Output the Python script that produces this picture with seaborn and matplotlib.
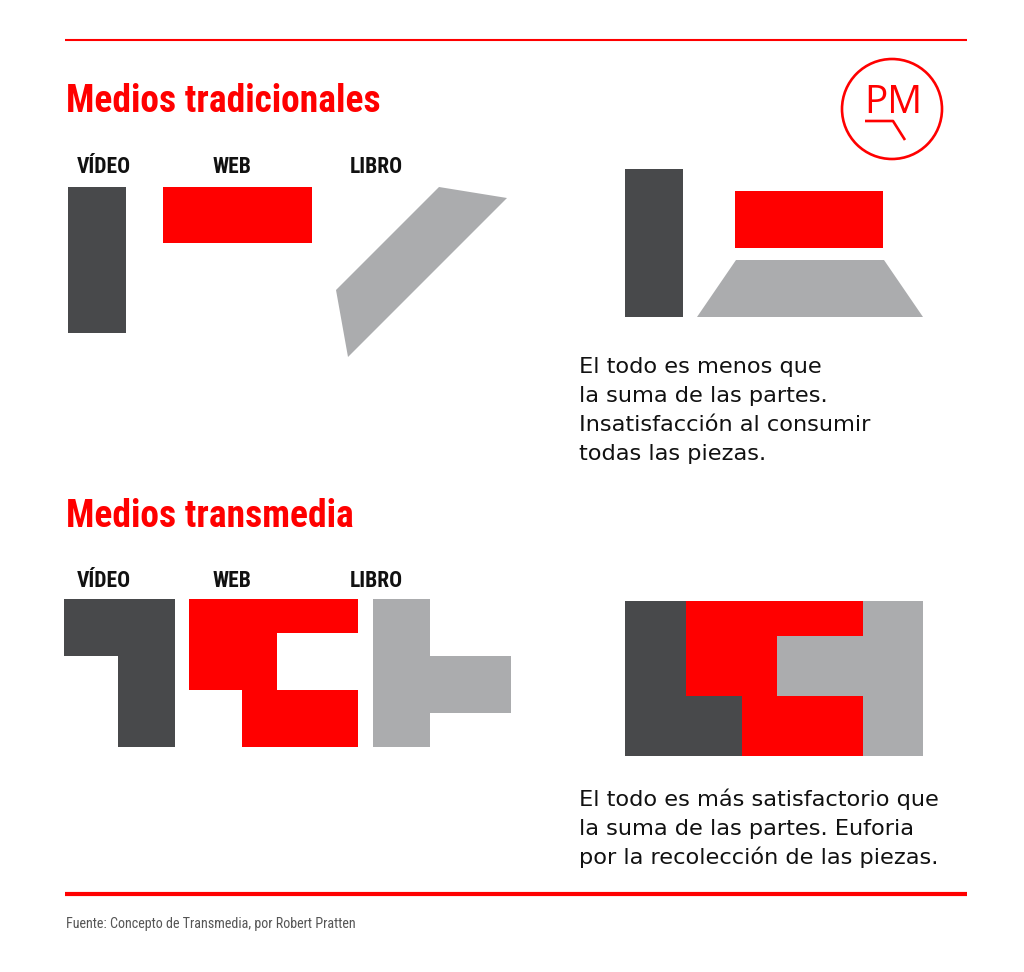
import matplotlib
matplotlib.use("Agg")
import matplotlib.pyplot as plt
from matplotlib.patches import Circle
import seaborn as sns

sns.set_theme(style="white")
plt.rcParams['font.family'] = ['Liberation Sans', 'DejaVu Sans']

RED = "#FF0000"
DARK = "#48494B"
LIGHT = "#ABACAE"

# ---- data: shapes (pixel-space vertices of the infographic pieces) ----
trad_video_x = [68, 126, 126, 68]
trad_video_y = [187, 187, 333, 333]
trad_web_x = [163, 312, 312, 163]
trad_web_y = [187, 187, 243, 243]
trad_libro_x = [439, 507, 348, 336]
trad_libro_y = [187, 198, 357, 290]

comb1_video_x = [625, 683, 683, 625]
comb1_video_y = [169, 169, 317, 317]
comb1_web_x = [735, 883, 883, 735]
comb1_web_y = [191, 191, 248, 248]
comb1_libro_x = [736, 884, 923, 697]
comb1_libro_y = [260, 260, 317, 317]

trans_video_x = [64, 175, 175, 118, 118, 64]
trans_video_y = [599, 599, 747, 747, 656, 656]
trans_web_x = [189, 358, 358, 277, 277, 358, 358, 242, 242, 189]
trans_web_y = [599, 599, 633, 633, 690, 690, 747, 747, 690, 690]
trans_libro_x = [373, 430, 430, 511, 511, 430, 430, 373]
trans_libro_y = [599, 599, 656, 656, 713, 713, 747, 747]

comb2_video_x = [625, 686, 686, 742, 742, 625]
comb2_video_y = [601, 601, 696, 696, 756, 756]
comb2_web_x = [686, 863, 863, 777, 777, 863, 863, 742, 742, 686]
comb2_web_y = [601, 601, 636, 636, 696, 696, 756, 756, 696, 696]
comb2_libro_x = [863, 923, 923, 863, 863, 777, 777, 863]
comb2_libro_y = [601, 601, 756, 756, 696, 696, 636, 636]

# ---- data: texts ----
titles = ["Medios tradicionales", "Medios transmedia"]
piece_labels = ["VÍDEO", "WEB", "LIBRO"]
text1 = ["El todo es menos que", "la suma de las partes.",
         "Insatisfacción al consumir", "todas las piezas."]
text2 = ["El todo es más satisfactorio que", "la suma de las partes. Euforia",
         "por la recolección de las piezas."]
source = "Fuente: Concepto de Transmedia, por Robert Pratten"

fig = plt.figure(figsize=(10.24, 9.72), dpi=100)
ax = fig.add_axes([0, 0, 1, 1])
ax.set_xlim(0, 1024)
ax.set_ylim(972, 0)
ax.axis("off")

COND = ['Noto Sans ExtraCondensed', 'Noto Sans Condensed', 'Roboto Condensed',
        'Liberation Sans Narrow', 'Liberation Sans', 'DejaVu Sans']
BODY = ['DejaVu Sans']

# rules
ax.plot([65, 967], [40, 40], color=RED, lw=1.5, solid_capstyle='butt')
ax.plot([65, 967], [894, 894], color=RED, lw=3, solid_capstyle='butt')

# titles
ax.text(66, 112, titles[0], color=RED, fontsize=27, fontweight='bold',
        family=COND, va='baseline', ha='left')
ax.text(66, 527, titles[1], color=RED, fontsize=27, fontweight='bold',
        family=COND, va='baseline', ha='left')

# piece labels
for x, lab in zip([77, 213, 350], piece_labels):
    ax.text(x, 173, lab, fontsize=15.5, fontweight='bold', family=COND,
            color='#111111', va='baseline', ha='left')
    ax.text(x, 587, lab, fontsize=15.5, fontweight='bold', family=COND,
            color='#111111', va='baseline', ha='left')

# shapes
for xs, ys, c in [
    (trad_video_x, trad_video_y, DARK), (trad_web_x, trad_web_y, RED),
    (trad_libro_x, trad_libro_y, LIGHT),
    (comb1_video_x, comb1_video_y, DARK), (comb1_web_x, comb1_web_y, RED),
    (comb1_libro_x, comb1_libro_y, LIGHT),
    (trans_video_x, trans_video_y, DARK), (trans_web_x, trans_web_y, RED),
    (trans_libro_x, trans_libro_y, LIGHT),
    (comb2_video_x, comb2_video_y, DARK), (comb2_web_x, comb2_web_y, RED),
    (comb2_libro_x, comb2_libro_y, LIGHT),
]:
    ax.fill(xs, ys, color=c, lw=0)

# body texts
for i, line in enumerate(text1):
    ax.text(579, 373 + i * 29, line, fontsize=16.2, color='#111111',
            family=BODY, va='baseline', ha='left')
for i, line in enumerate(text2):
    ax.text(579, 806 + i * 29, line, fontsize=16.2, color='#111111',
            family=BODY, va='baseline', ha='left')

# source
ax.text(66, 928, source, fontsize=10.2, family=COND, color='#555555',
        va='baseline', ha='left')

# logo
ax.add_patch(Circle((892, 109), 50, fill=False, ec=RED, lw=1.9))
ax.text(893, 113, "PM", fontsize=28, color=RED, fontweight='normal',
        family=['Open Sans', 'DejaVu Sans'], va='baseline', ha='center')
ax.plot([865, 893, 905], [121, 121, 140], color=RED, lw=1.9,
        solid_capstyle='butt')

fig.savefig("out.png", dpi=100, facecolor='white')
